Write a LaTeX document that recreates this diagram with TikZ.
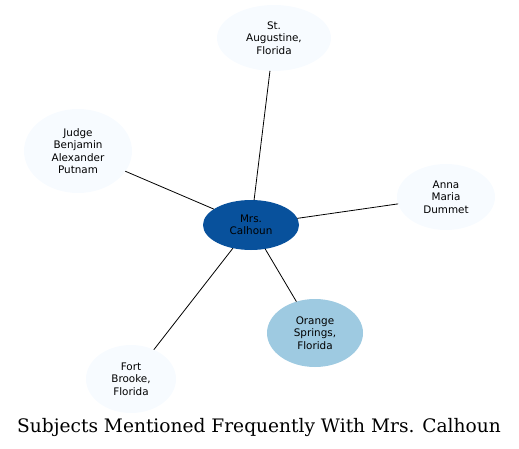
\documentclass[tikz,border=0pt]{standalone}
\usepackage{fontspec}
\newfontfamily\labelfont{DejaVu Sans}
\newfontfamily\titlefont{DejaVu Serif}
\usetikzlibrary{shapes.geometric}
\definecolor{pale}{HTML}{F7FBFF}
\definecolor{deep}{HTML}{08519C}
\definecolor{mid}{HTML}{9ECAE1}
\begin{document}
\begin{tikzpicture}[x=1pt,y=-1pt, line join=round, line cap=round,
	subj/.style={ellipse, inner sep=0pt, fill=pale, align=center, font=\labelfont\fontsize{10.4}{12.3}\selectfont},
	link/.style={black, line width=0.8pt}]
	\useasboundingbox (0,0) rectangle (519,449);
	
	\node[subj, fill=deep, minimum width=96, minimum height=50] (calhoun) at (251,225) {Mrs.\\Calhoun};
	\node[subj, minimum width=114, minimum height=66] (augustine) at (274,38) {St.\\Augustine,\\Florida};
	\node[subj, minimum width=108, minimum height=84] (putnam) at (78,151) {Judge\\Benjamin\\Alexander\\Putnam};
	\node[subj, minimum width=98, minimum height=66] (dummet) at (446,197) {Anna\\Maria\\Dummet};
	\node[subj, fill=mid, minimum width=96, minimum height=68] (orange) at (315,333) {Orange\\Springs,\\Florida};
	\node[subj, minimum width=90, minimum height=68] (brooke) at (131,379) {Fort\\Brooke,\\Florida};
	
	\foreach \s in {augustine,putnam,dummet,orange,brooke}
	\draw[link] (calhoun)--(\s);
	
	\node (title) at (259,427) {\titlefont\fontsize{18.6}{22}\selectfont Subjects Mentioned Frequently With Mrs. Calhoun};
\end{tikzpicture}
\end{document}
